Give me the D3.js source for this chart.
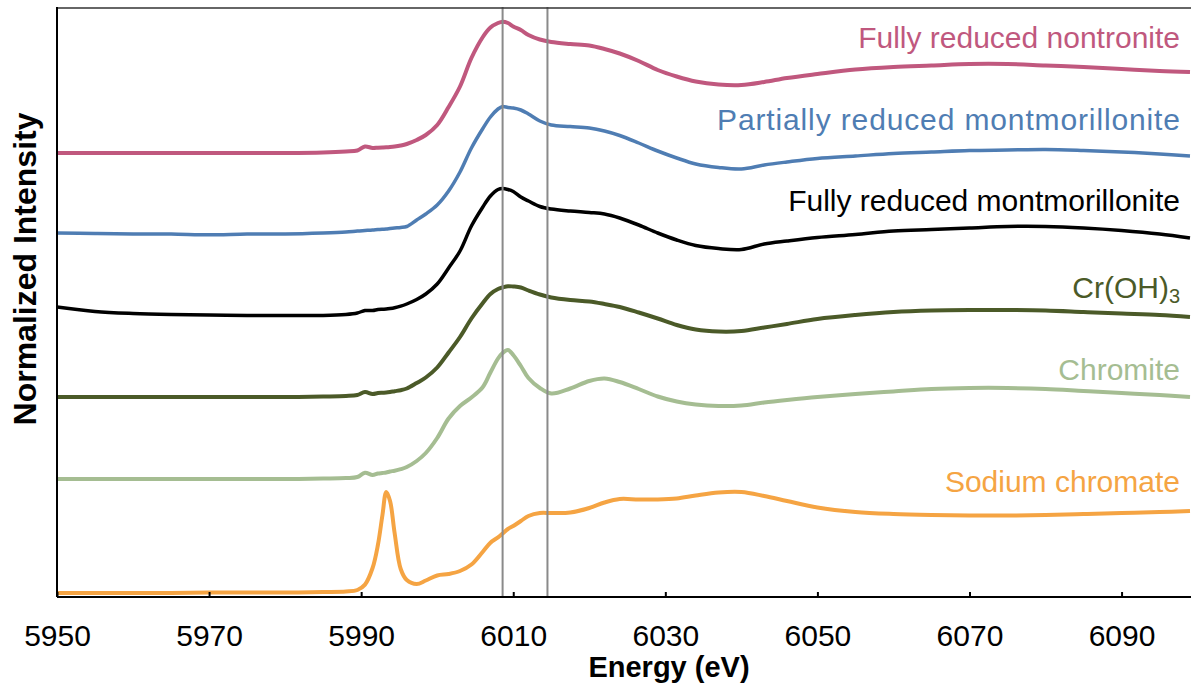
<!DOCTYPE html>
<html>
<head>
<meta charset="utf-8">
<script src="https://cdn.jsdelivr.net/npm/d3@7"></script>
<style>
  body { margin: 0; background: #fff; }
  svg { display: block; font-family: "Liberation Sans", Arial, sans-serif; }
</style>
</head>
<body>
<div id="container"></div>
<script>
// Energy grid (eV), shared by all spectra
const energy = [
  5950, 5955, 5960, 5965, 5970, 5975, 5980, 5985, 5988, 5989.5,
  5990.5, 5991.5, 5992.2, 5992.8, 5993.3, 5993.8, 5994.4, 5995.2, 5996, 5997.3,
  5998.5, 6000, 6001.5, 6003, 6004.5, 6006, 6007, 6008, 6008.6, 6009.3,
  6010, 6011, 6012, 6013.5, 6015, 6017.5, 6020, 6022, 6024, 6026.5,
  6029, 6031.5, 6034, 6037, 6040, 6043, 6046, 6050, 6055, 6060,
  6065, 6070, 6075, 6080, 6085, 6090, 6095, 6099,
];

// Normalized intensity (stacked, arbitrary units)
const nontronite = [
  4.44, 4.44, 4.44, 4.44, 4.44, 4.44, 4.44, 4.445, 4.455, 4.465,
  4.505, 4.49, 4.493, 4.495, 4.497, 4.5, 4.505, 4.515, 4.53, 4.57,
  4.62, 4.72, 4.9, 5.105, 5.39, 5.6, 5.695, 5.74, 5.753, 5.74,
  5.705, 5.67, 5.62, 5.575, 5.55, 5.53, 5.515, 5.48, 5.435, 5.36,
  5.27, 5.205, 5.155, 5.125, 5.12, 5.15, 5.19, 5.23, 5.275, 5.3,
  5.315, 5.33, 5.33, 5.315, 5.3, 5.28, 5.26, 5.25,
];
const partialMont = [
  3.64, 3.635, 3.63, 3.63, 3.622, 3.63, 3.63, 3.64, 3.65, 3.66,
  3.665, 3.67, 3.675, 3.678, 3.68, 3.685, 3.69, 3.695, 3.705, 3.77,
  3.83, 3.92, 4.06, 4.25, 4.49, 4.685, 4.8, 4.88, 4.905, 4.895,
  4.89, 4.87, 4.83, 4.76, 4.72, 4.705, 4.69, 4.66, 4.615, 4.54,
  4.46, 4.39, 4.33, 4.295, 4.28, 4.32, 4.35, 4.385, 4.41, 4.435,
  4.45, 4.465, 4.47, 4.475, 4.465, 4.45, 4.43, 4.41,
];
const fullMont = [
  2.9, 2.855, 2.835, 2.825, 2.82, 2.815, 2.815, 2.815, 2.825, 2.84,
  2.865, 2.865, 2.875, 2.878, 2.88, 2.885, 2.893, 2.908, 2.93, 2.975,
  3.03, 3.13, 3.29, 3.46, 3.71, 3.9, 4.01, 4.075, 4.085, 4.075,
  4.055, 4.0, 3.96, 3.905, 3.88, 3.86, 3.845, 3.83, 3.79, 3.72,
  3.64, 3.57, 3.515, 3.485, 3.475, 3.53, 3.56, 3.595, 3.625, 3.66,
  3.675, 3.69, 3.705, 3.705, 3.69, 3.665, 3.63, 3.59,
];
const crOH3 = [
  2.0, 2.0, 2.0, 2.0, 2.0, 2.0, 2.0, 2.005, 2.01, 2.02,
  2.05, 2.03, 2.04, 2.043, 2.045, 2.05, 2.058, 2.068, 2.085, 2.14,
  2.195, 2.295, 2.445, 2.6, 2.785, 2.94, 3.03, 3.08, 3.095, 3.108,
  3.105, 3.095, 3.065, 3.025, 2.995, 2.97, 2.955, 2.93, 2.9, 2.845,
  2.785, 2.72, 2.675, 2.655, 2.66, 2.695, 2.73, 2.78, 2.82, 2.85,
  2.865, 2.87, 2.87, 2.865, 2.85, 2.835, 2.82, 2.8,
];
const chromite = [
  1.18, 1.18, 1.18, 1.18, 1.18, 1.18, 1.18, 1.185, 1.19, 1.2,
  1.243, 1.22, 1.235, 1.24, 1.245, 1.255, 1.263, 1.278, 1.3, 1.36,
  1.44, 1.59, 1.785, 1.91, 1.995, 2.1, 2.245, 2.385, 2.44, 2.47,
  2.42, 2.31, 2.19, 2.09, 2.035, 2.085, 2.16, 2.185, 2.15, 2.08,
  2.005, 1.955, 1.925, 1.91, 1.915, 1.945, 1.97, 2.0, 2.03, 2.055,
  2.08, 2.09, 2.09, 2.08, 2.06, 2.04, 2.02, 2.0,
];
const sodiumChromate = [
  0.04, 0.04, 0.04, 0.04, 0.045, 0.045, 0.045, 0.05, 0.055, 0.07,
  0.124, 0.29, 0.52, 0.82, 1.05, 0.96, 0.64, 0.28, 0.17, 0.13,
  0.165, 0.215, 0.23, 0.26, 0.325, 0.453, 0.543, 0.597, 0.635, 0.68,
  0.71, 0.76, 0.81, 0.84, 0.84, 0.845, 0.89, 0.945, 0.98, 0.975,
  0.975, 0.985, 1.015, 1.045, 1.05, 1.01, 0.96, 0.895, 0.85, 0.83,
  0.82, 0.815, 0.815, 0.82, 0.83, 0.84, 0.85, 0.86,
];

const seriesNames = [
  "Fully reduced nontronite",
  "Partially reduced montmorillonite",
  "Fully reduced montmorillonite",
  "Cr(OH)3",
  "Chromite",
  "Sodium chromate",
];
const xTicks = [5950, 5970, 5990, 6010, 6030, 6050, 6070, 6090];
const markerEnergies = [6008.6, 6014.5];

const width = 1191;
const height = 692;
const plot = { left: 57, right: 1190, top: 7, bottom: 597 };

const series = [
  { name: seriesNames[0], values: nontronite, colour: "#c0587e", stroke: 4, labelY: 48 },
  { name: seriesNames[1], values: partialMont, colour: "#4f7db3", stroke: 3.5, labelY: 130, textLength: 463 },
  { name: seriesNames[2], values: fullMont, colour: "#000000", stroke: 3.5, labelY: 211 },
  { name: seriesNames[3], values: crOH3, colour: "#4b5a28", stroke: 4, labelY: 298 },
  { name: seriesNames[4], values: chromite, colour: "#a5bd92", stroke: 4, labelY: 380 },
  { name: seriesNames[5], values: sodiumChromate, colour: "#f5a443", stroke: 4, labelY: 492 },
];

const svg = d3
  .select("#container")
  .append("svg")
  .attr("width", width)
  .attr("height", height);

const xScale = d3.scaleLinear().domain([5950, 6099]).range([plot.left, plot.right]);
const yScale = d3.scaleLinear().domain([0, 5.9]).range([plot.bottom, plot.top]);

svg
  .append("clipPath")
  .attr("id", "clip")
  .append("rect")
  .attr("x", plot.left)
  .attr("y", 0)
  .attr("width", width - plot.left)
  .attr("height", plot.bottom);

// spectra
const line = d3
  .line()
  .x((d) => xScale(d[0]))
  .y((d) => yScale(d[1]))
  .curve(d3.curveCatmullRom.alpha(0.5));

svg
  .append("g")
  .attr("clip-path", "url(#clip)")
  .selectAll("path")
  .data(series)
  .enter()
  .append("path")
  .attr("fill", "none")
  .attr("stroke", (d) => d.colour)
  .attr("stroke-width", (d) => d.stroke)
  .attr("stroke-linejoin", "round")
  .attr("d", (d) => line(energy.map((e, i) => [e, d.values[i]])));

// vertical reference lines
svg
  .append("g")
  .selectAll("line")
  .data(markerEnergies)
  .enter()
  .append("line")
  .attr("x1", (d) => xScale(d))
  .attr("x2", (d) => xScale(d))
  .attr("y1", plot.top)
  .attr("y2", plot.bottom)
  .attr("stroke", "#8a8a8a")
  .attr("stroke-width", 2);

// frame: top line and left axis
svg
  .append("line")
  .attr("x1", plot.left)
  .attr("x2", width)
  .attr("y1", plot.top + 1)
  .attr("y2", plot.top + 1)
  .attr("stroke", "#333")
  .attr("stroke-width", 1.5);

svg
  .append("line")
  .attr("x1", plot.left)
  .attr("x2", plot.left)
  .attr("y1", plot.top)
  .attr("y2", plot.bottom)
  .attr("stroke", "#000")
  .attr("stroke-width", 2);

// x axis
const xAxis = d3
  .axisBottom(xScale)
  .tickValues(xTicks)
  .tickFormat(d3.format("d"))
  .tickSizeInner(-5)
  .tickSizeOuter(0)
  .tickPadding(28);

const gx = svg
  .append("g")
  .attr("transform", `translate(0, ${plot.bottom})`)
  .call(xAxis);

gx.select(".domain")
  .attr("d", `M${plot.left},0H${width}`)
  .attr("stroke", "#000")
  .attr("stroke-width", 2);
gx.selectAll(".tick line").attr("stroke", "#000").attr("stroke-width", 2);
gx.selectAll(".tick text")
  .attr("fill", "#000")
  .style("font-size", "30px")
  .style("font-family", '"Liberation Sans", Arial, sans-serif');

// axis titles
svg
  .append("text")
  .attr("x", 669)
  .attr("y", 677)
  .attr("text-anchor", "middle")
  .style("font-size", "29px")
  .style("font-weight", "bold")
  .text("Energy (eV)");

svg
  .append("text")
  .attr("transform", "translate(36, 269) rotate(-90)")
  .attr("text-anchor", "middle")
  .style("font-size", "32px")
  .style("font-weight", "bold")
  .text("Normalized Intensity");

// series labels
const labels = svg
  .append("g")
  .selectAll("text")
  .data(series)
  .enter()
  .append("text")
  .attr("x", 1180)
  .attr("y", (d) => d.labelY)
  .attr("text-anchor", "end")
  .attr("fill", (d) => d.colour)
  .style("font-size", "30px");

labels.each(function (d) {
  const t = d3.select(this);
  const m = d.name.match(/^(.*?)(\d)$/);
  if (d.name.startsWith("Cr(OH)") && m) {
    t.append("tspan").text(m[1]);
    t.append("tspan").attr("dy", 5).style("font-size", "20px").text(m[2]);
  } else {
    t.text(d.name);
  }
  if (d.textLength) {
    t.attr("textLength", d.textLength).attr("lengthAdjust", "spacing");
  }
});
</script>
</body>
</html>
